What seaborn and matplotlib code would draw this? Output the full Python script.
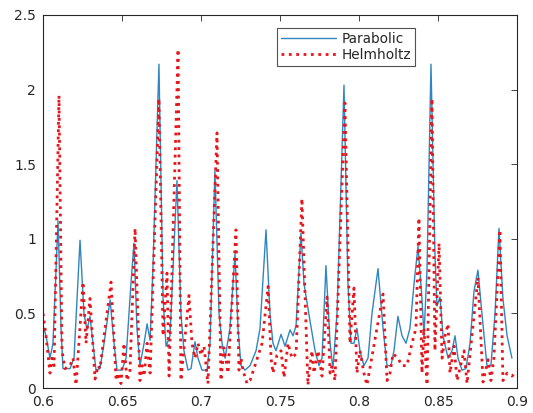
import matplotlib
matplotlib.use("Agg")
import matplotlib.pyplot as plt
import pandas as pd
import seaborn as sns

# Parabolic solution (smooth curve)
para_x = [0.6000, 0.6019, 0.6044, 0.6063, 0.6095, 0.6114, 0.6126, 0.6171, 0.6196, 0.6234,
          0.6259, 0.6278, 0.6297, 0.6316, 0.6335, 0.6360, 0.6386, 0.6424, 0.6449, 0.6468,
          0.6499, 0.6525, 0.6556, 0.6575, 0.6594, 0.6613, 0.6639, 0.6658, 0.6677, 0.6695,
          0.6733, 0.6759, 0.6778, 0.6803, 0.6847, 0.6872, 0.6891, 0.6917, 0.6936, 0.6961,
          0.6980, 0.7005, 0.7037, 0.7056, 0.7087, 0.7113, 0.7132, 0.7151, 0.7182, 0.7214,
          0.7233, 0.7252, 0.7277, 0.7309, 0.7347, 0.7372, 0.7410, 0.7435, 0.7454, 0.7473,
          0.7505, 0.7530, 0.7562, 0.7581, 0.7600, 0.7631, 0.7650, 0.7688, 0.7720, 0.7745,
          0.7764, 0.7789, 0.7815, 0.7833, 0.7859, 0.7903, 0.7928, 0.7947, 0.7966, 0.7985,
          0.8004, 0.8029, 0.8055, 0.8080, 0.8118, 0.8150, 0.8175, 0.8200, 0.8219, 0.8244,
          0.8270, 0.8295, 0.8320, 0.8346, 0.8371, 0.8396, 0.8409, 0.8428, 0.8453, 0.8478,
          0.8491, 0.8510, 0.8529, 0.8561, 0.8586, 0.8605, 0.8624, 0.8649, 0.8674, 0.8700,
          0.8725, 0.8750, 0.8775, 0.8807, 0.8832, 0.8858, 0.8883, 0.8908, 0.8934, 0.8965]
para_y = [0.42, 0.35, 0.20, 0.30, 1.12, 0.40, 0.13, 0.13, 0.20, 0.99,
          0.50, 0.39, 0.48, 0.30, 0.12, 0.13, 0.30, 0.59, 0.30, 0.12,
          0.12, 0.20, 0.70, 0.97, 0.40, 0.15, 0.30, 0.43, 0.32, 0.80,
          2.17, 0.60, 0.28, 0.35, 1.39, 0.50, 0.25, 0.12, 0.13, 0.31,
          0.20, 0.12, 0.12, 0.30, 1.46, 0.50, 0.30, 0.20, 0.40, 0.90,
          0.40, 0.15, 0.12, 0.15, 0.25, 0.40, 1.06, 0.50, 0.30, 0.25,
          0.36, 0.28, 0.39, 0.35, 0.42, 1.04, 0.70, 0.45, 0.25, 0.15,
          0.20, 0.82, 0.30, 0.13, 0.50, 2.03, 0.70, 0.30, 0.30, 0.40,
          0.25, 0.15, 0.20, 0.50, 0.80, 0.40, 0.15, 0.15, 0.25, 0.48,
          0.35, 0.30, 0.40, 0.70, 0.95, 0.60, 0.35, 0.80, 2.17, 0.90,
          0.55, 0.61, 0.35, 0.20, 0.25, 0.35, 0.20, 0.12, 0.13, 0.30,
          0.65, 0.79, 0.50, 0.15, 0.15, 0.50, 1.07, 0.60, 0.35, 0.20]

# Helmholtz solution (dotted, more jagged)
helm_x = [0.6000, 0.6019, 0.6044, 0.6057, 0.6070, 0.6101, 0.6120, 0.6139, 0.6171, 0.6190,
          0.6209, 0.6253, 0.6272, 0.6297, 0.6329, 0.6348, 0.6360, 0.6430, 0.6462, 0.6474,
          0.6493, 0.6512, 0.6531, 0.6550, 0.6582, 0.6613, 0.6626, 0.6639, 0.6658, 0.6677,
          0.6733, 0.6759, 0.6784, 0.6797, 0.6854, 0.6872, 0.6923, 0.6942, 0.6961, 0.6980,
          0.6999, 0.7018, 0.7043, 0.7100, 0.7125, 0.7144, 0.7170, 0.7220, 0.7239, 0.7252,
          0.7264, 0.7290, 0.7309, 0.7340, 0.7385, 0.7423, 0.7442, 0.7454, 0.7479, 0.7505,
          0.7524, 0.7549, 0.7574, 0.7600, 0.7637, 0.7675, 0.7688, 0.7701, 0.7713, 0.7739,
          0.7764, 0.7796, 0.7815, 0.7827, 0.7846, 0.7909, 0.7941, 0.7966, 0.7985, 0.8004,
          0.8029, 0.8048, 0.8150, 0.8175, 0.8194, 0.8213, 0.8244, 0.8270, 0.8301, 0.8333,
          0.8358, 0.8377, 0.8396, 0.8409, 0.8428, 0.8459, 0.8478, 0.8504, 0.8523, 0.8542,
          0.8561, 0.8573, 0.8599, 0.8618, 0.8649, 0.8662, 0.8681, 0.8750, 0.8782, 0.8814,
          0.8832, 0.8851, 0.8889, 0.8908, 0.8934, 0.8965, 0.8997]
helm_y = [0.50, 0.35, 0.10, 0.20, 0.15, 1.96, 0.25, 0.13, 0.15, 0.20,
          0.02, 0.71, 0.30, 0.60, 0.06, 0.15, 0.13, 0.71, 0.05, 0.10,
          0.03, 0.30, 0.05, 0.12, 1.07, 0.05, 0.15, 0.08, 0.30, 0.10,
          1.94, 0.35, 0.77, 0.08, 2.27, 0.05, 0.62, 0.30, 0.20, 0.30,
          0.22, 0.28, 0.03, 1.71, 0.05, 0.27, 0.10, 1.06, 0.12, 0.20,
          0.12, 0.03, 0.05, 0.15, 0.30, 0.68, 0.20, 0.10, 0.22, 0.25,
          0.07, 0.30, 0.20, 0.23, 1.27, 0.02, 0.15, 0.25, 0.10, 0.25,
          0.08, 0.61, 0.10, 0.15, 0.05, 1.91, 0.30, 0.67, 0.10, 0.25,
          0.10, 0.02, 0.63, 0.05, 0.10, 0.23, 0.20, 0.15, 0.15, 0.30,
          0.40, 1.14, 0.10, 0.40, 0.02, 1.94, 0.25, 0.97, 0.20, 0.35,
          0.43, 0.10, 0.28, 0.05, 0.19, 0.25, 0.03, 0.74, 0.04, 0.19,
          0.05, 0.20, 1.06, 0.05, 0.10, 0.08, 0.11]

x_ticks = [0.6, 0.65, 0.7, 0.75, 0.8, 0.85, 0.9]
x_labels = ["0.6", "0.65", "0.7", "0.75", "0.8", "0.85", "0.9"]
y_ticks = [0, 0.5, 1, 1.5, 2, 2.5]
y_labels = ["0", "0.5", "1", "1.5", "2", "2.5"]

sns.set_style("white")
plt.rcParams['font.family'] = ['DejaVu Sans']

df_para = pd.DataFrame({"x": para_x, "y": para_y})
df_helm = pd.DataFrame({"x": helm_x, "y": helm_y})

fig = plt.figure(figsize=(5.33, 4.13), dpi=100)
ax = fig.add_axes([0.0807, 0.0605, 0.8902, 0.9032])

sns.lineplot(data=df_para, x="x", y="y", sort=False, estimator=None, ax=ax,
             color="#2f86c0", linewidth=1.0, label="Parabolic")
sns.lineplot(data=df_helm, x="x", y="y", sort=False, estimator=None, ax=ax,
             color="#e8151b", linewidth=2.0, linestyle=":", label="Helmholtz")

ax.set_xlim(0.6, 0.9)
ax.set_ylim(0, 2.5)
ax.set_xticks(x_ticks)
ax.set_xticklabels(x_labels)
ax.set_yticks(y_ticks)
ax.set_yticklabels(y_labels)
ax.set_xlabel("")
ax.set_ylabel("")
ax.tick_params(direction="in", length=4, width=0.6, top=True, right=True,
               labelsize=10, labelcolor="#262626", color="#262626", pad=5)
for s in ax.spines.values():
    s.set_color("#262626")
    s.set_linewidth(0.8)

leg = ax.legend(loc="upper right", bbox_to_anchor=(0.784, 0.965), fontsize=9.8,
                frameon=True, fancybox=False, handlelength=4.0, borderpad=0.3,
                labelspacing=0.15, handletextpad=0.4, borderaxespad=0)
leg.get_frame().set_edgecolor("#262626")
leg.get_frame().set_linewidth(0.8)

fig.savefig("out.png", dpi=100)
